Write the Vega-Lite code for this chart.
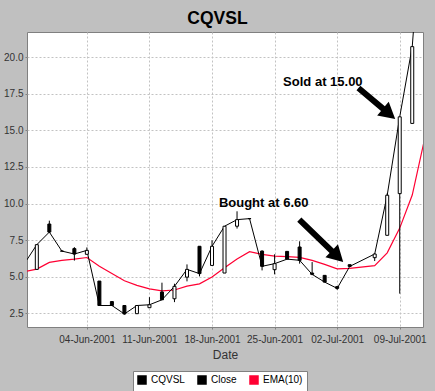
{
  "$schema": "https://vega.github.io/schema/vega-lite/v6.json",
  "width": 396,
  "height": 295,
  "autosize": {"type": "none"},
  "padding": {"left": 27, "top": 32, "right": 12, "bottom": 64},
  "background": "#c0c0c0",
  "title": {"text": "CQVSL", "fontSize": 17.5, "fontWeight": "bold", "font": "Liberation Sans", "color": "#000000", "anchor": "middle", "baseline": "alphabetic", "offset": -9.5, "dx": -7.5},
  "config": {
    "view": {"fill": "white", "stroke": "#808080", "strokeWidth": 1},
    "font": "Liberation Sans",
    "axis": {"domain": false, "grid": true, "gridColor": "#c2c2c2", "gridDash": [2, 2], "gridWidth": 1, "tickSize": 2, "tickColor": "#808080", "labelFont": "Liberation Sans", "labelFontSize": 10, "labelColor": "#333333", "titleFont": "Liberation Sans", "titleFontSize": 12, "titleFontWeight": "normal", "titleColor": "#333333"}
  },
  "encoding": {
    "x": {"field": "t", "type": "quantitative", "scale": {"domain": [-4.385, 26.46], "nice": false, "zero": false},
      "axis": {"title": "Date", "values": [0, 5, 10, 15, 20, 25], "labelExpr": "utcFormat(utc(2001,5,4+datum.value/5*7),'%d-%b-%Y')", "labelPadding": 5, "titlePadding": 5, "labelFlush": false, "labelOverlap": false}}
  },
  "layer": [
    {
      "data": {"values": [
        {"date": "2001-05-25", "close": 4.58, "ema": 5.15},
        {"date": "2001-05-29", "open": 5.5, "high": 7.19, "low": 5.5, "close": 7.19, "ema": 5.52},
        {"date": "2001-05-30", "open": 8.6, "high": 8.83, "low": 8.0, "close": 8.05, "ema": 5.98},
        {"date": "2001-05-31", "open": 6.75, "high": 6.75, "low": 6.75, "close": 6.75, "ema": 6.12},
        {"date": "2001-06-01", "open": 6.92, "high": 7.02, "low": 6.1, "close": 6.55, "ema": 6.2},
        {"date": "2001-06-04", "open": 6.53, "high": 7.0, "low": 6.53, "close": 6.8, "ema": 6.31},
        {"date": "2001-06-05", "open": 4.7, "high": 4.7, "low": 3.03, "close": 3.03, "ema": 5.71},
        {"date": "2001-06-06", "open": 3.3, "high": 3.3, "low": 3.03, "close": 3.03, "ema": 5.22},
        {"date": "2001-06-07", "open": 3.03, "high": 3.03, "low": 2.42, "close": 2.45, "ema": 4.72},
        {"date": "2001-06-08", "open": 2.47, "high": 3.03, "low": 2.47, "close": 3.03, "ema": 4.41},
        {"date": "2001-06-11", "open": 2.88, "high": 3.6, "low": 2.88, "close": 3.08, "ema": 4.17},
        {"date": "2001-06-12", "open": 3.95, "high": 4.59, "low": 3.42, "close": 3.42, "ema": 4.03},
        {"date": "2001-06-13", "open": 3.49, "high": 4.52, "low": 3.26, "close": 4.34, "ema": 4.09},
        {"date": "2001-06-14", "open": 4.97, "high": 5.84, "low": 4.68, "close": 5.5, "ema": 4.35},
        {"date": "2001-06-15", "open": 7.08, "high": 7.08, "low": 5.02, "close": 5.21, "ema": 4.51},
        {"date": "2001-06-18", "open": 5.77, "high": 7.49, "low": 5.77, "close": 7.08, "ema": 4.98},
        {"date": "2001-06-19", "open": 5.25, "high": 8.45, "low": 5.25, "close": 8.45, "ema": 5.61},
        {"date": "2001-06-20", "open": 8.45, "high": 9.47, "low": 8.29, "close": 8.9, "ema": 6.21},
        {"date": "2001-06-21", "open": 8.97, "high": 8.97, "low": 8.97, "close": 8.97, "ema": 6.71},
        {"date": "2001-06-22", "open": 6.75, "high": 6.8, "low": 5.43, "close": 5.71, "ema": 6.53},
        {"date": "2001-06-25", "open": 5.48, "high": 6.53, "low": 5.16, "close": 5.89, "ema": 6.41},
        {"date": "2001-06-26", "open": 6.73, "high": 6.73, "low": 6.2, "close": 6.2, "ema": 6.37},
        {"date": "2001-06-27", "open": 7.03, "high": 7.42, "low": 5.89, "close": 6.12, "ema": 6.32},
        {"date": "2001-06-28", "open": 5.25, "high": 6.0, "low": 5.1, "close": 5.16, "ema": 6.11},
        {"date": "2001-06-29", "open": 5.09, "high": 5.09, "low": 4.63, "close": 4.63, "ema": 5.84},
        {"date": "2001-07-02", "open": 4.32, "high": 4.32, "low": 4.1, "close": 4.2, "ema": 5.54},
        {"date": "2001-07-03", "open": 5.82, "high": 5.82, "low": 5.66, "close": 5.7, "ema": 5.57},
        {"date": "2001-07-05", "open": 6.3, "high": 6.58, "low": 6.07, "close": 6.55, "ema": 5.75},
        {"date": "2001-07-06", "open": 7.83, "high": 10.7, "low": 7.83, "close": 10.57, "ema": 6.63},
        {"date": "2001-07-09", "open": 10.68, "high": 15.93, "low": 3.84, "close": 15.93, "ema": 8.32},
        {"date": "2001-07-10", "open": 15.48, "high": 20.73, "low": 15.48, "close": 20.73, "ema": 10.58},
        {"date": "2001-07-11", "close": 32, "ema": 14.47}
      ]},
      "transform": [
        {"calculate": "5*floor((toDate(datum.date)-utc(2001,5,4))/6048e5)+min((toDate(datum.date)-utc(2001,5,4))/864e5-7*floor((toDate(datum.date)-utc(2001,5,4))/6048e5),5)", "as": "t"}
      ],
      "layer": [
        {
          "mark": {"type": "line", "strokeWidth": 1.2, "clip": true},
          "encoding": {
            "y": {"field": "ema", "type": "quantitative", "scale": {"domain": [1.56, 21.73], "nice": false, "zero": false},
              "axis": {"title": null, "values": [2.5, 5, 7.5, 10, 12.5, 15, 17.5, 20], "format": ".1f", "labelPadding": 2}},
            "color": {"datum": "EMA(10)", "scale": {"domain": ["CQVSL", "Close", "EMA(10)"], "range": ["#000000", "#000000", "#ff0033"]},
              "legend": {"orient": "none", "legendX": 106, "legendY": 339, "direction": "horizontal", "title": null, "symbolType": "square", "symbolSize": 64, "labelFontSize": 10, "labelFont": "Liberation Sans", "labelColor": "#000000", "fillColor": "white", "strokeColor": "#808080", "padding": 4, "columnPadding": 10, "labelOffset": 4,
                "encode": {"symbols": {"update": {"fill": {"scale": "color", "field": "value"}, "stroke": {"value": "transparent"}, "opacity": {"value": 1}}}}}}
          }
        },
        {
          "mark": {"type": "line", "strokeWidth": 1, "clip": true},
          "encoding": {
            "y": {"field": "close", "type": "quantitative", "scale": {"domain": [1.56, 21.73], "nice": false, "zero": false},
              "axis": {"title": null, "values": [2.5, 5, 7.5, 10, 12.5, 15, 17.5, 20], "format": ".1f", "labelPadding": 2}},
            "color": {"datum": "Close", "scale": {"domain": ["CQVSL", "Close", "EMA(10)"], "range": ["#000000", "#000000", "#ff0033"]}}
          }
        },
        {
          "mark": {"type": "rule", "strokeWidth": 1, "clip": true},
          "encoding": {
            "y": {"field": "low", "type": "quantitative", "scale": {"domain": [1.56, 21.73], "nice": false, "zero": false},
              "axis": {"title": null, "values": [2.5, 5, 7.5, 10, 12.5, 15, 17.5, 20], "format": ".1f", "labelPadding": 2}},
            "y2": {"field": "high"},
            "color": {"datum": "CQVSL", "scale": {"domain": ["CQVSL", "Close", "EMA(10)"], "range": ["#000000", "#000000", "#ff0033"]}}
          }
        },
        {
          "mark": {"type": "bar", "size": 3, "stroke": "#000000", "strokeWidth": 1, "clip": true},
          "encoding": {
            "y": {"field": "open", "type": "quantitative", "scale": {"domain": [1.56, 21.73], "nice": false, "zero": false},
              "axis": {"title": null, "values": [2.5, 5, 7.5, 10, 12.5, 15, 17.5, 20], "format": ".1f", "labelPadding": 2}},
            "y2": {"field": "close"},
            "fill": {"condition": {"test": "datum.close > datum.open", "value": "#ffffff"}, "value": "#000000"}
          }
        }
      ]
    },
    {
      "data": {"values": [
        {"label": "Bought at 6.60", "date": "2001-07-03T00:00:00Z", "value": 5.58},
        {"label": "Sold at 15.00", "date": "2001-07-09T06:00:00Z", "value": 15.35}
      ]},
      "transform": [
        {"calculate": "5*floor((toDate(datum.date)-utc(2001,5,4))/6048e5)+min((toDate(datum.date)-utc(2001,5,4))/864e5-7*floor((toDate(datum.date)-utc(2001,5,4))/6048e5),5)", "as": "t"}
      ],
      "encoding": {
        "y": {"field": "value", "type": "quantitative", "scale": {"domain": [1.56, 21.73], "nice": false, "zero": false},
          "axis": {"title": null, "values": [2.5, 5, 7.5, 10, 12.5, 15, 17.5, 20], "format": ".1f", "labelPadding": 2}}
      },
      "layer": [
        {
          "transform": [{"filter": "datum.label == 'Bought at 6.60'"}],
          "mark": {"type": "point", "shape": "M-7,-0.3L-2.5,-0.3L-2.5,-0.9L-0.9,0L-2.5,0.9L-2.5,0.3L-7,0.3Z", "angle": 44, "size": 400, "filled": true, "fill": "#000000", "strokeWidth": 0, "opacity": 1}
        },
        {
          "transform": [{"filter": "datum.label == 'Bought at 6.60'"}],
          "mark": {"type": "text", "dx": -86, "dy": -61, "align": "center", "baseline": "alphabetic", "fontSize": 13, "fontWeight": "bold", "font": "Liberation Sans", "color": "#000000"},
          "encoding": {"text": {"field": "label"}}
        },
        {
          "transform": [{"filter": "datum.label == 'Sold at 15.00'"}],
          "mark": {"type": "point", "shape": "M-5.8,-0.3L-2.6,-0.3L-2.6,-0.9L-1,0L-2.6,0.9L-2.6,0.3L-5.8,0.3Z", "angle": 40, "size": 400, "filled": true, "fill": "#000000", "strokeWidth": 0, "opacity": 1}
        },
        {
          "transform": [{"filter": "datum.label == 'Sold at 15.00'"}],
          "mark": {"type": "text", "dx": -80, "dy": -39.4, "align": "center", "baseline": "alphabetic", "fontSize": 13, "fontWeight": "bold", "font": "Liberation Sans", "color": "#000000"},
          "encoding": {"text": {"field": "label"}}
        }
      ]
    }
  ]
}
